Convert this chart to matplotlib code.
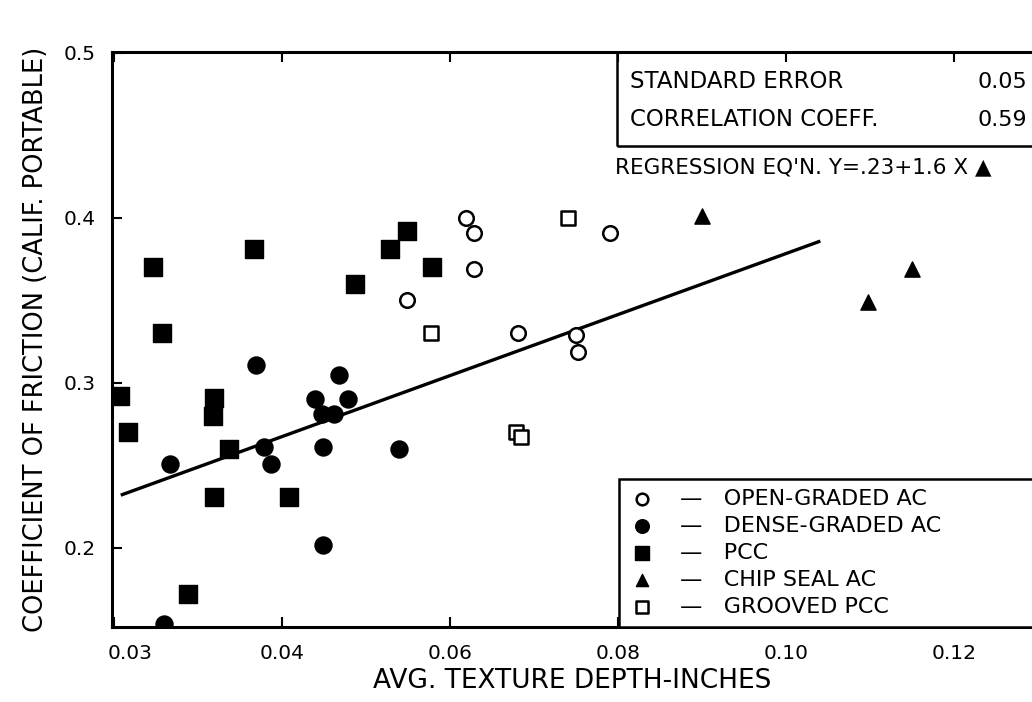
import matplotlib.pyplot as plt
from matplotlib.patches import Rectangle
from matplotlib.transforms import ScaledTranslation

# data (x = avg texture depth, in; y = friction coeff.)
open_x = [0.0619, 0.0629, 0.0629, 0.0549, 0.0681, 0.0750, 0.0752, 0.0790]
open_y = [0.400, 0.391, 0.369, 0.350, 0.330, 0.329, 0.319, 0.391]

dense_x = [0.0369, 0.0468, 0.0439, 0.0479, 0.0448, 0.0462, 0.0378,
           0.0387, 0.0267, 0.0449, 0.0539, 0.0449, 0.0259]
dense_y = [0.311, 0.305, 0.290, 0.290, 0.281, 0.281, 0.261,
           0.251, 0.251, 0.261, 0.260, 0.202, 0.154]

pcc_x = [0.0246, 0.0257, 0.0207, 0.0217, 0.0367, 0.0319, 0.0318, 0.0337,
         0.0319, 0.0408, 0.0288, 0.0487, 0.0529, 0.0549, 0.0579]
pcc_y = [0.370, 0.330, 0.292, 0.270, 0.381, 0.291, 0.280, 0.260,
         0.231, 0.231, 0.172, 0.360, 0.381, 0.392, 0.370]

chip_x = [0.0900, 0.1150, 0.1098]
chip_y = [0.401, 0.369, 0.349]

groove_x = [0.0740, 0.0578, 0.0679, 0.0685]
groove_y = [0.400, 0.330, 0.270, 0.267]

# regression line as drawn
line_x = [0.0208, 0.1041]
line_y = [0.232, 0.386]

xticks = [0.02, 0.04, 0.06, 0.08, 0.10, 0.12]
xtick_labels = ["0.03", "0.04", "0.06", "0.08", "0.10", "0.12"]
yticks = [0.2, 0.3, 0.4, 0.5]
ytick_labels = ["0.2", "0.3", "0.4", "0.5"]

plt.rcParams['font.family'] = ['DejaVu Sans']

fig = plt.figure(figsize=(10.32, 7.02), dpi=100)
ax = fig.add_axes([112 / 1032, 75 / 702, 920 / 1032, 575 / 702])

ax.plot(line_x, line_y, color='black', lw=2.4, solid_capstyle='butt', zorder=2)

h1 = ax.scatter(open_x, open_y, s=110, facecolor='white', edgecolor='black',
                linewidth=1.8, marker='o', zorder=3)
h2 = ax.scatter(dense_x, dense_y, s=150, color='black', marker='o', zorder=3)
h3 = ax.scatter(pcc_x, pcc_y, s=150, color='black', marker='s', zorder=3)
h4 = ax.scatter(chip_x, chip_y, s=120, color='black', marker='^', zorder=3)
h5 = ax.scatter(groove_x, groove_y, s=100, facecolor='white', edgecolor='black',
                linewidth=1.8, marker='s', zorder=3)

ax.set_xlim(0.01976, 0.1293)
ax.set_ylim(0.1521, 0.5006)
ax.set_xticks(xticks)
ax.set_xticklabels(xtick_labels)
ax.set_yticks(yticks)
ax.set_yticklabels(ytick_labels)
ax.tick_params(direction='in', length=7, width=1.5, labelsize=14.5, top=True)
ax.tick_params(axis='x', pad=12)
ax.tick_params(axis='y', pad=12)

# the first x label sits a bit right of its tick in the original
first = ax.get_xticklabels()[0]
first.set_transform(first.get_transform() + ScaledTranslation(0.16, 0, fig.dpi_scale_trans))

for side in ['left', 'bottom', 'top']:
    ax.spines[side].set_linewidth(2.2)
ax.spines['right'].set_visible(False)

ax.set_xlabel("AVG. TEXTURE DEPTH-INCHES", fontsize=19, labelpad=4)
ax.set_ylabel("COEFFICIENT OF FRICTION (CALIF. PORTABLE)", fontsize=18.5, labelpad=10)

# stats box in the upper right
ax.add_patch(Rectangle((0.549, 0.8365), 0.46, 0.1635, transform=ax.transAxes,
                       fill=False, edgecolor='black', lw=1.8, clip_on=False))
ax.text(0.563, 0.948, "STANDARD ERROR", transform=ax.transAxes, fontsize=16.5,
        va='center', ha='left')
ax.text(0.995, 0.948, "0.05", transform=ax.transAxes, fontsize=16,
        va='center', ha='right')
ax.text(0.563, 0.882, "CORRELATION COEFF.", transform=ax.transAxes, fontsize=16.5,
        va='center', ha='left')
ax.text(0.995, 0.882, "0.59", transform=ax.transAxes, fontsize=16,
        va='center', ha='right')
ax.text(0.547, 0.80, "REGRESSION EQ'N. Y=.23+1.6 X \u25B2", transform=ax.transAxes,
        fontsize=15.5, va='center', ha='left')

leg = ax.legend([h1, h2, h3, h4, h5],
                ["\u2014   OPEN-GRADED AC", "\u2014   DENSE-GRADED AC", "\u2014   PCC",
                 "\u2014   CHIP SEAL AC", "\u2014   GROOVED PCC"],
                loc='lower left', bbox_to_anchor=(0.551, 0.0, 0.46, 0.2817),
                mode='expand', borderaxespad=0, fontsize=16, frameon=True,
                fancybox=False, edgecolor='black', framealpha=1,
                handletextpad=1.1, labelspacing=0.32, borderpad=0.45,
                handlelength=1.2, markerscale=0.8)
leg.get_frame().set_linewidth(1.8)

fig.savefig("out.png", dpi=100)
